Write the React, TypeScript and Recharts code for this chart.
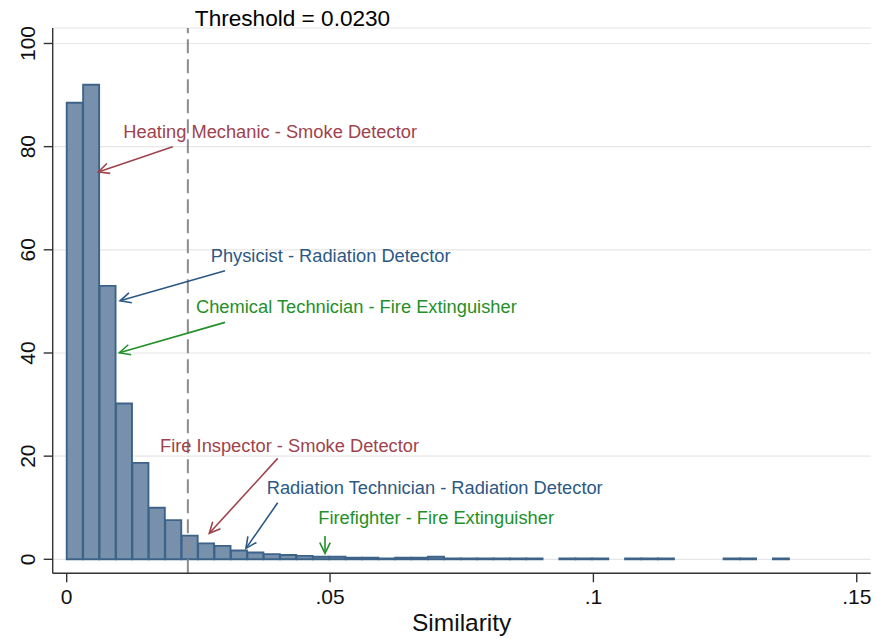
import React from 'react';
import {
  ComposedChart,
  Bar,
  XAxis,
  YAxis,
  CartesianGrid,
  ReferenceLine,
  ReferenceDot,
} from 'recharts';

// histogram of similarity scores (density), 44 bins from 0 to ~.137
const binWidth = 0.1372 / 44;
const densities = [
  88.5, 92.0, 53.0, 30.2, 18.7, 10.0, 7.6, 4.6, 3.1, 2.6, 1.7, 1.33, 1.0, 0.83, 0.66,
  0.5, 0.5, 0.33, 0.33, 0.17, 0.33, 0.33, 0.5, 0.17, 0.17, 0.17, 0.17, 0.17, 0.17, 0,
  0.17, 0.17, 0.17, 0, 0.17, 0.17, 0.17, 0, 0, 0, 0.17, 0.17, 0, 0.17,
];
const xTicks = [0, 0.05, 0.1, 0.15];
const yTicks = [0, 20, 40, 60, 80, 100];
const threshold = 0.023;

const annotationLabels = [
  'Heating Mechanic - Smoke Detector',
  'Physicist - Radiation Detector',
  'Chemical Technician - Fire Extinguisher',
  'Fire Inspector - Smoke Detector',
  'Radiation Technician - Radiation Detector',
  'Firefighter - Fire Extinguisher',
];
const annotationColors = ['#9e434c', '#2c5984', '#24902a', '#9e434c', '#2c5984', '#24902a'];
// text anchor (left, baseline) in data units
const labelX = [0.01075, 0.02734, 0.02455, 0.01771, 0.03797, 0.04777];
const labelY = [81.6, 57.67, 47.67, 20.85, 12.65, 6.84];
// arrow tail -> head in data units
const arrowFromX = [0.02013, 0.03006, 0.03006, 0.04006, 0.04006, 0.04904];
const arrowFromY = [79.96, 55.93, 45.93, 19.57, 10.97, 4.52];
const arrowToX = [0.006, 0.01012, 0.00999, 0.02707, 0.03404, 0.04904];
const arrowToY = [75.1, 50.12, 40.04, 5.04, 2.13, 1.16];

const data = densities.map((d, i) => ({ x: (i + 0.5) * binWidth, density: d }));

const FONT = '"Liberation Sans", Arial, Helvetica, sans-serif';

const fmtX = (v: number) => (v === 0 ? '0' : String(v).replace(/^0\./, '.'));

const XTick = (props: any) => {
  const { x, y, payload } = props;
  return (
    <text x={x} y={y + 22} textAnchor="middle" fontSize={21} fontFamily={FONT} fill="#111">
      {fmtX(payload.value)}
    </text>
  );
};

const YTick = (props: any) => {
  const { x, y, payload } = props;
  const bx = x - 9;
  return (
    <text
      x={bx}
      y={y}
      transform={`rotate(-90, ${bx}, ${y})`}
      textAnchor="middle"
      fontSize={21}
      fontFamily={FONT}
      fill="#111"
    >
      {payload.value}
    </text>
  );
};

const makeArrow = (color: string) => (p: any) => {
  const { x1, y1, x2, y2 } = p;
  const ang = Math.atan2(y2 - y1, x2 - x1);
  const len = 12;
  const spread = 0.45;
  const ax = x2 - len * Math.cos(ang - spread);
  const ay = y2 - len * Math.sin(ang - spread);
  const bx = x2 - len * Math.cos(ang + spread);
  const by = y2 - len * Math.sin(ang + spread);
  return (
    <g>
      <line x1={x1} y1={y1} x2={x2} y2={y2} stroke={color} strokeWidth={1.6} />
      <polyline
        points={`${ax},${ay} ${x2},${y2} ${bx},${by}`}
        fill="none"
        stroke={color}
        strokeWidth={1.6}
      />
    </g>
  );
};

const makeText = (text: string, color: string) => (p: any) => (
  <text x={p.cx} y={p.cy} fontSize={18.3} fontFamily={FONT} fill={color}>
    {text}
  </text>
);

const ThresholdLabel = (props: any) => {
  const vb = props.viewBox || {};
  return (
    <text x={vb.x + 7} y={vb.y - 2} fontSize={22.6} fontFamily={FONT} fill="#000">
      Threshold = 0.0230
    </text>
  );
};

export default function App() {
  return (
    <div style={{ position: 'absolute', left: 0, top: 0, background: '#fff' }}>
      <ComposedChart
        width={876}
        height={639}
        data={data}
        margin={{ top: 28, right: 5.3, bottom: 0, left: 0 }}
        barCategoryGap={0}
        barGap={0}
      >
        <CartesianGrid horizontal vertical={false} stroke="#e6e6e6" strokeWidth={1.2} />
        <XAxis
          dataKey="x"
          type="number"
          domain={[-0.00266, 0.15265]}
          ticks={xTicks}
          allowDataOverflow
          height={65.7}
          tick={<XTick />}
          tickSize={9}
          tickMargin={0}
          axisLine={{ stroke: '#333', strokeWidth: 1.4 }}
          tickLine={{ stroke: '#333', strokeWidth: 1.4 }}
          label={{
            value: 'Similarity',
            position: 'insideBottom',
            offset: 8,
            fontSize: 24.5,
            fontFamily: FONT,
            fill: '#111',
          }}
        />
        <YAxis
          type="number"
          domain={[-2.71, 103]}
          ticks={yTicks}
          allowDataOverflow
          width={52.7}
          tick={<YTick />}
          tickSize={9}
          tickMargin={0}
          axisLine={{ stroke: '#333', strokeWidth: 1.4 }}
          tickLine={{ stroke: '#333', strokeWidth: 1.4 }}
        />
        <Bar
          dataKey="density"
          fill="#7791ad"
          stroke="#3e6388"
          strokeWidth={1.9}
          isAnimationActive={false}
        />
        <ReferenceLine
          x={threshold}
          stroke="#8c8c8c"
          strokeWidth={2}
          strokeDasharray="14 6"
          label={<ThresholdLabel />}
        />
        {annotationLabels.map((lab, i) => (
          <ReferenceLine
            key={'a' + i}
            segment={[
              { x: arrowFromX[i], y: arrowFromY[i] },
              { x: arrowToX[i], y: arrowToY[i] },
            ]}
            shape={makeArrow(annotationColors[i])}
          />
        ))}
        {annotationLabels.map((lab, i) => (
          <ReferenceDot
            key={'t' + i}
            x={labelX[i]}
            y={labelY[i]}
            r={0}
            shape={makeText(lab, annotationColors[i])}
          />
        ))}
      </ComposedChart>
    </div>
  );
}
